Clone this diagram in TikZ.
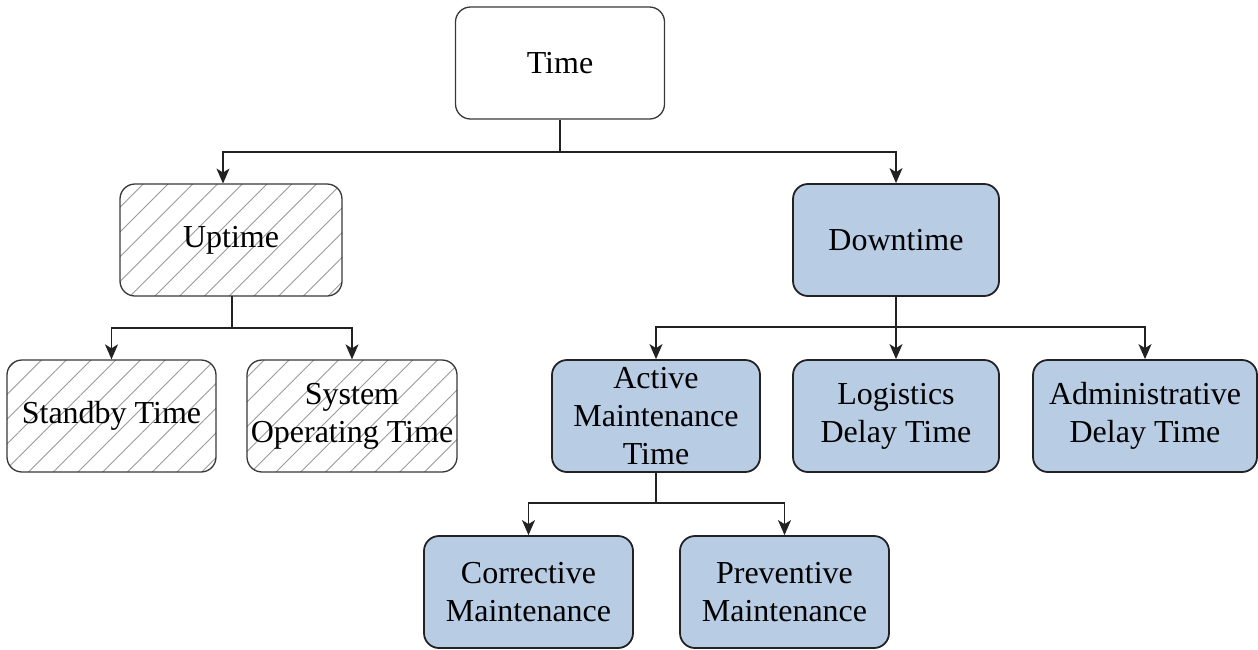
\documentclass[tikz,border=0pt]{standalone}
\usepackage{fontspec}
\setmainfont{Liberation Serif}
\usetikzlibrary{arrows.meta,patterns.meta}
\definecolor{boxblue}{HTML}{B8CCE4}
\definecolor{edge}{HTML}{222222}
\begin{document}
\begin{tikzpicture}[x=1pt,y=-1pt,
  base/.style={rectangle,rounded corners=15pt,align=center,inner sep=0pt,
    minimum height=112pt,font=\fontsize{32}{38}\selectfont,text=black},
  plainbox/.style={base,draw=edge!90,line width=1.3pt,fill=white},
  hatchbox/.style={base,draw=edge!90,line width=1.3pt,
    pattern={Lines[angle=45,distance=17.5pt,line width=0.9pt]},pattern color=black!40},
  bluebox/.style={base,draw=edge,line width=1.8pt,fill=boxblue},
  link/.style={draw=edge,line width=1.4pt},
  arr/.style={link,-{Stealth[length=15pt,width=13pt,inset=4pt]}}]
\useasboundingbox (0,0) rectangle (1258,649);

% nodes
\node[plainbox,minimum width=209pt] (time) at (560,63) {Time};
\node[hatchbox,minimum width=222pt] (up) at (231,240) {Uptime};
\node[bluebox,minimum width=206pt] (down) at (896,240) {Downtime};
\node[hatchbox,minimum width=209pt] (stand) at (111.5,416) {Standby Time};
\node[hatchbox,minimum width=210pt] (sysop) at (352,416) {System\\Operating Time};
\node[bluebox,minimum width=208pt] (active) at (656,416) {Active\\Maintenance\\Time};
\node[bluebox,minimum width=206pt] (logi) at (896,416) {Logistics\\Delay Time};
\node[bluebox,minimum width=224pt] (admin) at (1145,416) {Administrative\\Delay Time};
\node[bluebox,minimum width=209pt] (corr) at (528.5,592) {Corrective\\Maintenance};
\node[bluebox,minimum width=209pt] (prev) at (784.5,592) {Preventive\\Maintenance};

% junction points of the tree
\coordinate (j0) at (560,152);
\coordinate (j1) at (232,328);
\coordinate (j2) at (896,327);
\coordinate (j3) at (656,503);

% connectors
\draw[link] (time.south) -- (j0);
\draw[arr] (j0) -| ([xshift=-8pt]up.north);
\draw[arr] (j0) -| (down.north);

\draw[link] (up.south -| j1) -- (j1);
\draw[arr] (j1) -| (stand.north);
\draw[arr] (j1) -| (sysop.north);

\draw[arr] (down.south) -- (logi.north);
\draw[arr] (j2) -| (active.north);
\draw[arr] (j2) -| (admin.north);

\draw[link] (active.south) -- (j3);
\draw[arr] (j3) -| (corr.north);
\draw[arr] (j3) -| (prev.north);
\end{tikzpicture}
\end{document}
